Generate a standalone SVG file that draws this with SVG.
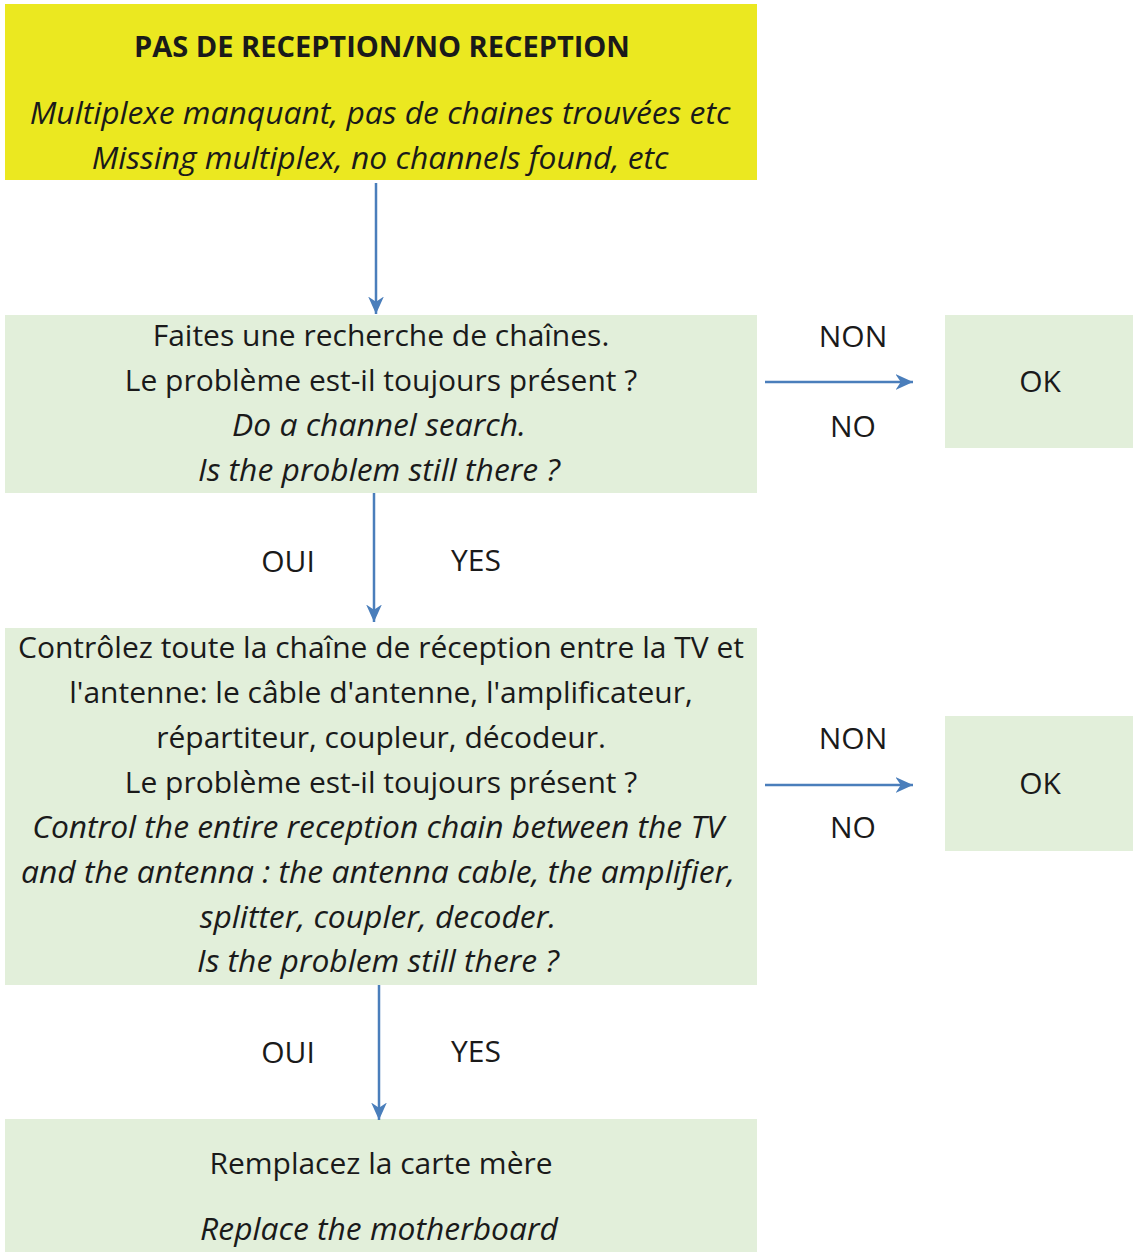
<svg xmlns="http://www.w3.org/2000/svg" width="1133" height="1252" viewBox="0 0 1133 1252">
<defs>
<marker id="ah" viewBox="0 0 10 10" refX="10" refY="5" markerWidth="7" markerHeight="7" markerUnits="strokeWidth" orient="auto">
<path d="M0,0.5 L10,5 L0,9.5 L3,5 z" fill="#4a7ebb"/>
</marker>
<style>
text{font-family:"Open Sans","Lato","Liberation Sans",sans-serif;font-size:30px;fill:#1a1a1a;text-anchor:middle}
.b{font-weight:bold;font-size:29px}
.i{font-style:italic;font-size:31.8px}
.g{fill:#e2efda}
.y{fill:#ebe820}
.c{stroke:#4a7ebb;stroke-width:2.5;fill:none;marker-end:url(#ah)}
</style>
</defs>
<rect width="1133" height="1252" fill="#ffffff"/>
<g id="start">
<rect class="y" x="5" y="4" width="752" height="176"/>
<text class="b" x="382" y="57">PAS DE RECEPTION/NO RECEPTION</text>
<text class="i" x="380" y="124">Multiplexe manquant, pas de chaines trouvées etc</text>
<text class="i" x="380" y="169">Missing multiplex, no channels found, etc</text>
</g>
<g id="search">
<rect class="g" x="5" y="315" width="752" height="178"/>
<text x="381" y="346">Faites une recherche de chaînes.</text>
<text x="381" y="391">Le problème est-il toujours présent ?</text>
<text class="i" x="379" y="436">Do a channel search.</text>
<text class="i" x="379" y="481">Is the problem still there ?</text>
</g>
<g id="ok1">
<rect class="g" x="945" y="315" width="188" height="133"/>
<text x="1040" y="392">OK</text>
</g>
<g id="control">
<rect class="g" x="5" y="628" width="752" height="357"/>
<text x="381" y="658">Contrôlez toute la chaîne de réception entre la TV et</text>
<text x="381" y="703">l'antenne: le câble d'antenne, l'amplificateur,</text>
<text x="381" y="748">répartiteur, coupleur, décodeur.</text>
<text x="381" y="793">Le problème est-il toujours présent ?</text>
<text class="i" x="378" y="838">Control the entire reception chain between the TV</text>
<text class="i" x="378" y="883">and the antenna : the antenna cable, the amplifier,</text>
<text class="i" x="378" y="928">splitter, coupler, decoder.</text>
<text class="i" x="378" y="972">Is the problem still there ?</text>
</g>
<g id="ok2">
<rect class="g" x="945" y="716" width="188" height="135"/>
<text x="1040" y="794">OK</text>
</g>
<g id="replace">
<rect class="g" x="5" y="1119" width="752" height="133"/>
<text x="381" y="1174">Remplacez la carte mère</text>
<text class="i" x="379" y="1240">Replace the motherboard</text>
</g>
<g id="connectors">
<line class="c" x1="376" y1="183" x2="376" y2="314"/>
<line class="c" x1="765" y1="382" x2="913" y2="382"/>
<line class="c" x1="374" y1="493" x2="374" y2="622"/>
<line class="c" x1="765" y1="785" x2="913" y2="785"/>
<line class="c" x1="379" y1="985" x2="379" y2="1120"/>
<text x="853" y="347">NON</text>
<text x="853" y="437">NO</text>
<text x="288" y="572">OUI</text>
<text x="476" y="571">YES</text>
<text x="853" y="749">NON</text>
<text x="853" y="838">NO</text>
<text x="288" y="1063">OUI</text>
<text x="476" y="1062">YES</text>
</g>
</svg>
